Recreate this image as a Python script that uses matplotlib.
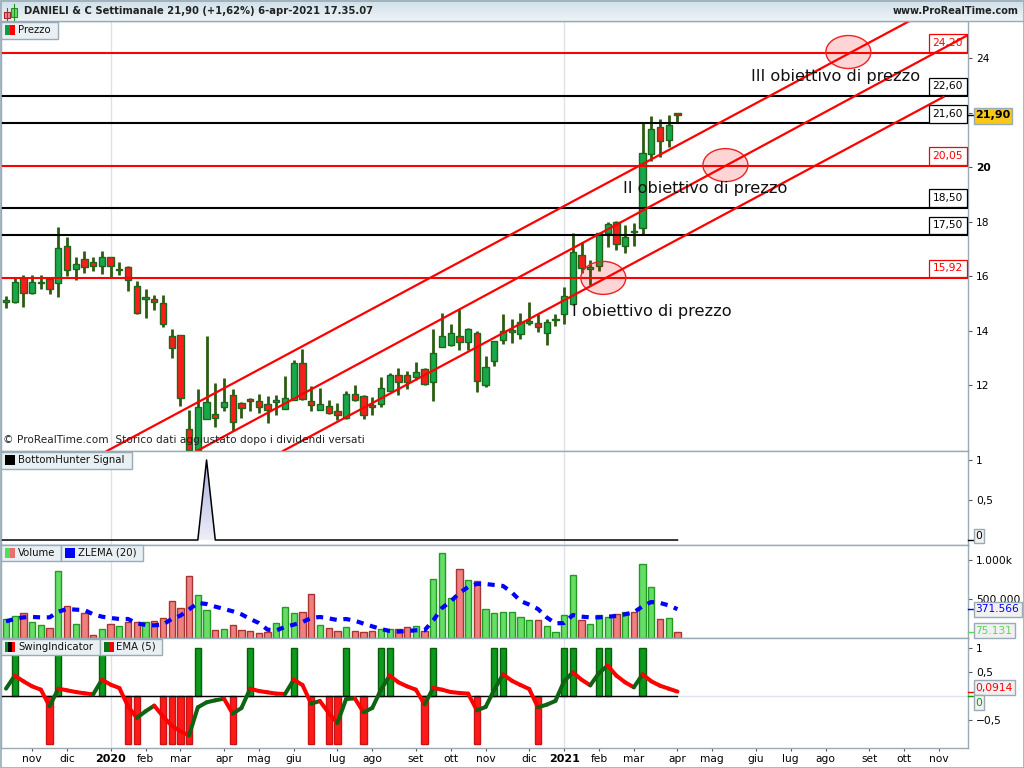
"""
Weekly candlestick chart of Danieli & C with price targets and indicator panes.
"""

import numpy as np
import matplotlib
matplotlib.use('Agg')
import matplotlib.pyplot as plt
from matplotlib.colors import LinearSegmentedColormap
from matplotlib.patches import Ellipse, Rectangle

opens = [15.03, 15.03, 15.94, 15.36, 15.73, 15.88, 15.73, 17.11, 16.27, 16.61, 16.50, 16.35, 16.68,
         16.22, 16.32, 15.62, 15.14, 15.14, 15.02, 13.81, 13.82, 10.37, 9.62, 10.77, 10.92, 11.20,
         11.65, 11.35, 11.50, 11.42, 11.32, 11.39, 11.11, 11.44, 12.82, 11.42, 11.07, 11.24, 11.06,
         10.78, 11.66, 11.61, 11.25, 11.32, 11.77, 12.35, 12.35, 12.28, 12.57, 12.12, 13.41, 13.46,
         13.81, 13.57, 13.90, 11.99, 12.87, 13.64, 13.95, 13.88, 14.28, 14.29, 13.90, 14.40, 14.59,
         14.96, 16.76, 16.25, 16.36, 17.59, 17.99, 17.11, 17.66, 17.75, 20.48, 21.48, 20.99, 21.99]
closes = [15.11, 15.77, 15.36, 15.77, 15.79, 15.51, 17.02, 16.21, 16.43, 16.32, 16.37, 16.68, 16.37,
          16.27, 15.85, 14.63, 15.22, 15.03, 14.25, 13.35, 11.51, 9.62, 11.18, 11.36, 10.78, 11.36,
          10.63, 11.14, 11.40, 11.18, 11.07, 11.44, 11.51, 12.80, 11.47, 11.25, 11.29, 10.99, 10.89,
          11.66, 11.44, 10.90, 11.18, 11.88, 12.35, 12.10, 12.10, 12.46, 12.02, 13.16, 13.79, 13.90,
          13.57, 14.05, 12.14, 12.65, 13.60, 13.97, 14.01, 14.32, 14.34, 14.12, 14.30, 14.43, 15.25,
          16.87, 16.28, 16.32, 17.57, 17.90, 17.16, 17.42, 17.60, 20.50, 21.38, 20.97, 21.54, 21.90]
highs = [15.27, 15.98, 16.03, 16.03, 16.03, 15.98, 17.80, 17.42, 16.68, 16.90, 16.68, 16.90, 16.68,
         16.50, 16.35, 15.80, 15.51, 15.29, 15.29, 14.04, 13.82, 11.07, 11.84, 13.79, 12.06, 12.24,
         11.84, 11.36, 11.51, 11.66, 11.58, 11.62, 12.32, 12.91, 13.31, 11.95, 11.88, 11.44, 11.33,
         11.77, 11.99, 11.62, 11.55, 12.28, 12.43, 12.61, 12.50, 12.83, 12.61, 14.04, 14.63, 14.23,
         14.78, 14.08, 13.97, 13.06, 13.63, 14.59, 14.41, 14.63, 15.03, 14.59, 14.41, 14.59, 15.58,
         17.57, 17.26, 16.59, 17.57, 17.98, 18.03, 17.87, 17.93, 21.60, 21.87, 21.75, 21.90, 21.99]
lows = [14.84, 15.02, 14.87, 15.35, 15.52, 15.35, 15.24, 16.01, 15.84, 16.12, 16.20, 16.09, 15.96,
        16.03, 15.46, 14.62, 14.47, 14.76, 14.14, 13.00, 11.24, 9.59, 9.59, 10.77, 10.47, 11.06,
        10.30, 10.79, 11.06, 10.98, 10.62, 10.91, 11.11, 11.44, 11.46, 11.06, 11.07, 10.95, 10.72,
        10.74, 11.43, 10.77, 10.91, 11.20, 11.77, 11.65, 11.86, 12.17, 12.01, 11.43, 13.38, 13.44,
        13.29, 13.29, 11.76, 11.91, 12.71, 13.52, 13.55, 13.70, 14.21, 13.96, 13.47, 14.18, 14.25,
        14.94, 16.10, 15.67, 16.18, 17.08, 16.95, 16.86, 17.11, 17.54, 20.23, 20.38, 20.75, 21.64]

# volumes and ZLEMA are in thousands of shares
volumes = [245, 283, 322, 206, 168, 129, 863, 412, 180, 322, 39, 116, 180, 155, 206, 206, 206, 219,
           258, 477, 387, 799, 554, 361, 103, 116, 168, 103, 90, 64, 77, 193, 399, 322, 335, 567,
           168, 129, 90, 142, 90, 77, 90, 116, 116, 116, 142, 155, 90, 760, 1095, 515, 889, 747,
           734, 374, 322, 335, 335, 271, 232, 232, 155, 77, 296, 812, 232, 180, 296, 271, 309, 335,
           335, 953, 657, 245, 258, 75.131]
zlema = [215, 245, 266, 271, 266, 266, 339, 374, 365, 361, 305, 275, 258, 245, 245, 189, 168, 163,
         172, 245, 288, 369, 451, 438, 404, 374, 344, 305, 245, 193, 107, 99, 142, 172, 206, 258,
         271, 253, 232, 245, 223, 185, 150, 116, 90, 82, 90, 99, 99, 228, 387, 472, 580, 657, 696,
         696, 683, 670, 588, 477, 430, 374, 266, 189, 193, 296, 275, 266, 266, 275, 283, 305, 331,
         408, 464, 451, 421, 371.566]

swing_up = [1, 6, 11, 22, 28, 33, 39, 43, 44, 49, 56, 57, 64, 65, 68, 69, 73]
swing_down = [5, 14, 15, 18, 19, 20, 21, 26, 35, 37, 38, 41, 48, 54, 61]
ema5 = [0.153, 0.424, 0.306, 0.201, 0.132, -0.215, 0.153, 0.118, 0.083, 0.056, 0.035, 0.340, 0.236,
        0.167, -0.215, -0.458, -0.319, -0.201, -0.424, -0.618, -0.736, -0.819, -0.236, -0.132,
        -0.090, -0.056, -0.368, -0.250, 0.153, 0.104, 0.076, 0.049, 0.042, 0.340, 0.229, -0.160,
        -0.104, -0.354, -0.563, -0.063, -0.049, -0.340, -0.250, 0.132, 0.424, 0.285, 0.201, 0.132,
        -0.174, 0.167, 0.132, 0.083, 0.063, 0.049, -0.299, -0.229, 0.132, 0.451, 0.319, 0.229,
        0.146, -0.236, -0.181, -0.104, 0.306, 0.493, 0.340, 0.222, 0.479, 0.632, 0.424, 0.285,
        0.181, 0.451, 0.306, 0.215, 0.153, 0.0914]
bottom_signal_week = 23

black_levels = [22.60, 21.60, 18.50, 17.50]
red_levels = [24.20, 20.05, 15.92]
channel_upper = [(11.58, 9.58), (103.8, 25.39)]
channel_middle = [(21.9, 9.58), (110.3, 24.84)]
channel_lower = [(31.77, 9.58), (107.5, 22.57)]
target_weeks = [68.5, 82.5, 96.6]
target_prices = [15.93, 20.07, 24.22]

month_weeks = [3, 7, 12, 16, 20, 25, 29, 33, 38, 42, 47, 51, 55, 60, 64, 68, 72, 77, 81, 86, 90,
               94, 99, 103, 107]
month_labels = ['nov', 'dic', '2020', 'feb', 'mar', 'apr', 'mag', 'giu', 'lug', 'ago', 'set', 'ott',
                'nov', 'dic', '2021', 'feb', 'mar', 'apr', 'mag', 'giu', 'lug', 'ago', 'set', 'ott',
                'nov']
year_weeks = [12, 64]

BORDER = '#9aabb5'
TEXT_SIZE = 7.7
XLIM = (-0.573, 110.32)
weeks = np.arange(len(closes))

plt.rcParams['font.family'] = ['DejaVu Sans']
plt.rcParams['font.size'] = TEXT_SIZE

fig = plt.figure(figsize=(10.24, 7.68), dpi=100, facecolor='white')


def pane(top, bottom, ylim):
    """Add a pane given its top and bottom edge in pixels."""
    ax = fig.add_axes([1 / 1024, 1 - bottom / 768, 967 / 1024, (bottom - top) / 768])
    ax.set_xlim(*XLIM)
    ax.set_ylim(*ylim)
    ax.yaxis.tick_right()
    ax.tick_params(axis='y', length=3, width=0.8, color='#556', pad=3, labelsize=TEXT_SIZE)
    ax.set_xticks([])
    for side in ax.spines.values():
        side.set_color(BORDER)
        side.set_linewidth(1)
    for week in year_weeks:
        ax.axvline(week, color='#dde2ea', lw=1, zorder=0)
    return ax


# price pane
ax_price = pane(21, 451, (9.578, 25.358))
ax_price.set_yticks([12, 14, 16, 18, 20, 22, 24])
ax_price.set_yticklabels(['12', '14', '16', '18', '20', '', '24'])
ax_price.get_yticklabels()[4].set_fontweight('bold')

ax_price.vlines(weeks, lows, highs, color='#2b5c10', lw=2.0, zorder=2)
for i in weeks:
    body_color = '#17a84b' if closes[i] >= opens[i] else '#fb1c1c'
    ax_price.bar(i, abs(closes[i] - opens[i]), bottom=min(opens[i], closes[i]), width=0.72,
                 color=body_color, edgecolor='#1f651a', linewidth=1, zorder=3)

for level in black_levels + red_levels:
    color = 'black' if level in black_levels else '#ff0000'
    ax_price.axhline(level, color=color, lw=1.5, zorder=4)
    ax_price.annotate(f'{level:.2f}'.replace('.', ','), xy=(1, level),
                      xycoords=ax_price.get_yaxis_transform(), xytext=(-3.6, 3.4),
                      textcoords='offset points', ha='right', va='bottom', color=color,
                      fontsize=TEXT_SIZE, zorder=5,
                      bbox=dict(boxstyle='square,pad=0.36', fc='white', ec=color, lw=0.9))

for week, price in zip(target_weeks, target_prices):
    ax_price.add_patch(Ellipse((week, price), 5.16, 1.21, facecolor=(1, 0, 0, 0.17),
                               edgecolor='#ee2222', lw=1, zorder=6))

for channel in (channel_upper, channel_middle, channel_lower):
    ax_price.plot(*zip(*channel), color='#ff0000', lw=1.6, zorder=7)

ax_price.text(85.4, 23.31, 'III obiettivo di prezzo', fontsize=11.65, color='#111', va='center', zorder=8)
ax_price.text(70.7, 19.2, 'II obiettivo di prezzo', fontsize=11.65, color='#111', va='center', zorder=8)
ax_price.text(64.9, 14.69, 'I obiettivo di prezzo', fontsize=11.65, color='#111', va='center', zorder=8)
ax_price.text(2 / 967, 0.0145, '© ProRealTime.com  Storico dati aggiustato dopo i dividendi versati',
              transform=ax_price.transAxes, fontsize=7.6, color='#222', va='bottom', zorder=8)

# bottom hunter pane
ax_hunter = pane(451, 544.5, (-0.056, 1.1125))
ax_hunter.set_yticks([0.5, 1])
ax_hunter.set_yticklabels(['0,5', '1'])
signal = np.zeros(len(weeks))
signal[bottom_signal_week] = 1
peak_fill = ax_hunter.fill_between(weeks, 0, signal, color='none')
lavender = LinearSegmentedColormap.from_list('lavender', ['#eeeef8', '#a9afdc'])
peak_image = ax_hunter.imshow(np.linspace(1, 0, 64).reshape(-1, 1), cmap=lavender,
                              extent=(22, 24, 0, 1), aspect='auto', zorder=1)
peak_image.set_clip_path(peak_fill.get_paths()[0], transform=ax_hunter.transData)
ax_hunter.set_xlim(*XLIM)
ax_hunter.set_ylim(-0.056, 1.1125)
ax_hunter.plot(np.r_[XLIM[0], weeks], np.r_[0, signal], color='black', lw=1.1, zorder=3)

# volume pane
ax_volume = pane(545, 638, (0, 1198))
ax_volume.set_yticks([500, 1000])
ax_volume.set_yticklabels(['500.000', '1.000k'])
for i in weeks:
    rising = closes[i] >= opens[i]
    ax_volume.bar(i, volumes[i], width=0.72, color='#66de66' if rising else '#ee8080',
                  edgecolor='#249a24' if rising else '#a83434', linewidth=1, zorder=2)
ax_volume.plot(weeks, zlema, color='#0000ff', lw=3.0, linestyle=(0, (1.7, 1.6)), zorder=3)

# swing pane
ax_swing = pane(638, 748, (-1.083, 1.208))
ax_swing.set_yticks([-0.5, 0, 0.5, 1])
ax_swing.set_yticklabels(['−0,5', '0', '0,5', '1'])
ax_swing.bar(swing_up, 1, width=0.72, color='#0c9a1c', edgecolor='#0b5c0b', linewidth=1, zorder=2)
ax_swing.bar(swing_down, -1, width=0.72, color='#ff1a1a', edgecolor='#c81414', linewidth=1, zorder=2)
ax_swing.axhline(0, color='#dfe3ea', lw=1, zorder=1)
ax_swing.plot([XLIM[0], weeks[-1]], [0, 0], color='black', lw=1, zorder=3)
for i in weeks[:-1]:
    seg_color = '#0f6414' if ema5[i + 1] > ema5[i] else '#ff0000'
    ax_swing.plot(weeks[i:i + 2], ema5[i:i + 2], color=seg_color, lw=2.9,
                  solid_capstyle='round', zorder=4)

ax_swing.set_xticks(month_weeks)
ax_swing.set_xticklabels(month_labels)
ax_swing.tick_params(axis='x', length=2.5, width=0.8, color='#556', pad=2, labelsize=TEXT_SIZE)
for label, text in zip(ax_swing.get_xticklabels(), month_labels):
    if text.startswith('20'):
        label.set_fontweight('bold')
        label.set_fontsize(8)

# header, legends and value tags, placed in pixels
ax_over = fig.add_axes([0, 0, 1, 1], zorder=20)
ax_over.patch.set_alpha(0)
ax_over.axis('off')
header_blue = LinearSegmentedColormap.from_list('header', ['#cfdfe8', '#eef4f7'])
ax_over.imshow(np.linspace(0, 1, 32).reshape(-1, 1), cmap=header_blue,
               extent=(0, 1024, 21, 0), aspect='auto', zorder=0)
ax_over.set_xlim(0, 1024)
ax_over.set_ylim(768, 0)
ax_over.plot([0, 1024], [21, 21], color=BORDER, lw=1)
ax_over.add_patch(Rectangle((0.5, 0.5), 1023, 767, fill=False, edgecolor=BORDER, lw=1.2))

ax_over.text(24, 11.5, 'DANIELI & C Settimanale 21,90 (+1,62%) 6-apr-2021 17.35.07', fontsize=7.2,
             fontweight='bold', color='#222', va='center')
ax_over.text(1019, 11.5, 'www.ProRealTime.com', fontsize=7.0, fontweight='bold', color='#222',
             va='center', ha='right')
# header icon
ax_over.plot([6.5, 6.5], [8, 20], color='#b03030', lw=0.8)
ax_over.add_patch(Rectangle((3.5, 11.5), 6, 6, facecolor='#ee8888', edgecolor='#a02828', lw=0.8))
ax_over.plot([14, 14], [4, 20], color='#209020', lw=0.8)
ax_over.add_patch(Rectangle((11, 7.5), 6, 9, facecolor='#66e066', edgecolor='#209020', lw=0.8))


def legend_box(x0, x1, y0, y1, text, colors):
    """Draw one pane legend: a swatch in stripes and its name."""
    ax_over.add_patch(Rectangle((x0, y0), x1 - x0, y1 - y0, facecolor='#e9f0f3', edgecolor=BORDER,
                                lw=1, zorder=5))
    step = 10.0 / len(colors)
    for k, color in enumerate(colors):
        ax_over.add_patch(Rectangle((x0 + 4 + k * step, y0 + 3), step, 10, facecolor=color,
                                    edgecolor='none', zorder=6))
    ax_over.text(x0 + 17, (y0 + y1) / 2, text, va='center', color='#111', fontsize=7.3, zorder=6)


legend_box(1, 57.5, 22, 38.5, 'Prezzo', ['#119944', '#ff0000'])
legend_box(1, 131.5, 452, 468.5, 'BottomHunter Signal', ['black'])
legend_box(1, 60.5, 544.5, 561, 'Volume', ['#55dd55', '#e87070'])
legend_box(60.5, 142.5, 544.5, 561, 'ZLEMA (20)', ['#0000ff'])
legend_box(1, 99.5, 638.5, 655, 'SwingIndicator', ['#0c8c1c', 'black', '#ff0000'])
legend_box(99.5, 161.5, 638.5, 655, 'EMA (5)', ['#0c7014', '#ff0000'])


def value_tag(x0, x1, y0, y1, text, color, tick_y, face='#f1f1f1', **kwargs):
    """Draw a boxed last-value label on the right scale."""
    ax_over.plot([968, 973], [tick_y, tick_y], color=color, lw=1, zorder=6)
    ax_over.add_patch(Rectangle((x0, y0), x1 - x0, y1 - y0, facecolor=face, edgecolor=BORDER, lw=1,
                                zorder=6))
    ax_over.text((x0 + x1) / 2, (y0 + y1) / 2, text, ha='center', va='center', color=color, zorder=7,
                 fontsize=kwargs.pop('fontsize', TEXT_SIZE), **kwargs)


value_tag(973.5, 1011.5, 107.5, 123.5, '21,90', 'black', 115, face='#f7c81a', fontweight='bold',
          fontsize=8.0)
value_tag(973.5, 983.5, 528.5, 543, '0', 'black', 540)
value_tag(973.5, 1021.5, 602, 617, '371.566', '#0000ff', 609)
value_tag(973.5, 1014.5, 623, 638, '75.131', '#55d855', 632)
value_tag(973.5, 1014.5, 680, 695, '0,0914', '#ff0000', 692)
value_tag(973.5, 983.5, 695, 710, '0', '#0a9a0a', 696)

fig.savefig('out.png', dpi=100)
